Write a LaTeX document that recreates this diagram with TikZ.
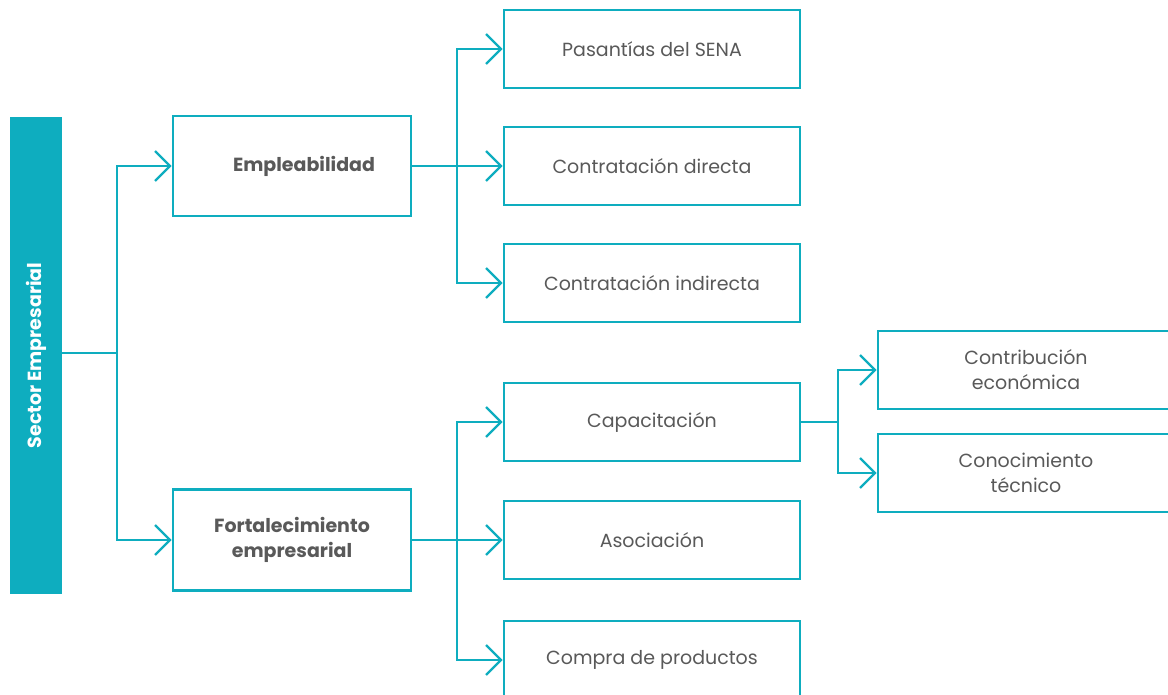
\documentclass[tikz,border=0pt]{standalone}
\usepackage{fontspec}
\setmainfont{Poppins}
\usetikzlibrary{arrows.meta}
\definecolor{teal1}{HTML}{0EADBF}
\definecolor{txt}{HTML}{595959}
\tikzset{
  box/.style={draw=teal1, line width=2.6pt, fill=white, minimum width=#1, text=txt, font=\fontsize{19}{25}\selectfont, align=center, inner sep=0pt},
  box/.default={296pt},
  conn/.style={draw=teal1, line width=2.4pt},
  arr/.style={conn, -{Straight Barb[length=15pt,width=30pt,line width=2.4pt]}},
}
\begin{document}
\begin{tikzpicture}[x=1pt,y=-1pt]
\useasboundingbox (0,0) rectangle (1168,695);
\clip (0,0) rectangle (1168,695);
% root
\node[fill=teal1, minimum width=52pt, minimum height=477pt, inner sep=0pt] (root) at (36,355.5) {};
\node[rotate=90, text=white, font=\bfseries\fontsize{19}{22}\selectfont] (roottxt) at (36,355.5) {Sector Empresarial};
% level 1
\node[box=238pt, minimum height=100pt, font=\bfseries\fontsize{19}{25}\selectfont] (emp) at (292,166) {\hspace*{24pt}Empleabilidad};
\node[box=238pt, minimum height=101pt, font=\bfseries\fontsize{19}{25}\selectfont] (fort) at (292,540) {Fortalecimiento\\empresarial};
% level 2
\node[box, minimum height=78pt] (pas) at (652,49) {Pasantías del SENA};
\node[box, minimum height=78pt] (cdir) at (652,166) {Contratación directa};
\node[box, minimum height=78pt] (cind) at (652,283) {Contratación indirecta};
\node[box, minimum height=78pt] (cap) at (652,422) {Capacitación};
\node[box, minimum height=78pt] (aso) at (652,540) {Asociación};
\node[box, minimum height=78pt] (comp) at (652,660) {Compra de productos};
% level 3
\node[box, minimum height=78pt] (contr) at (1026,370) {Contribución\\económica};
\node[box, minimum height=78pt] (cono) at (1026,473) {Conocimiento\\técnico};
% junctions
\coordinate (j0) at (117,353);
\coordinate (j1) at (457,166);
\coordinate (j2) at (457,540);
\coordinate (j3) at (838,422);
% connectors
\draw[conn] (root.east |- j0) -- (j0);
\draw[arr] (j0) |- (emp.west);
\draw[arr] (j0) |- (fort.west);
\draw[conn] (emp.east) -- (j1);
\draw[arr] (j1) |- (pas.west);
\draw[arr] (j1) -- (cdir.west);
\draw[arr] (j1) |- (cind.west);
\draw[conn] (fort.east) -- (j2);
\draw[arr] (j2) |- (cap.west);
\draw[arr] (j2) -- (aso.west);
\draw[arr] (j2) |- (comp.west);
\draw[conn] (cap.east) -- (j3);
\draw[arr] (j3) |- (contr.west);
\draw[arr] (j3) |- (cono.west);
\end{tikzpicture}
\end{document}
